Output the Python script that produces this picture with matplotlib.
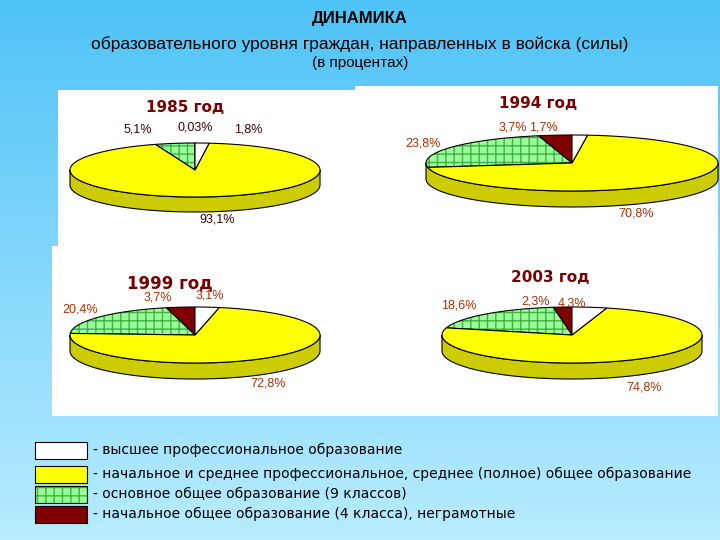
import numpy as np
import matplotlib
matplotlib.use("Agg")
import matplotlib.pyplot as plt
from matplotlib.patches import Polygon, Rectangle
from matplotlib.colors import to_rgb

years = ["1985 год", "1994 год", "1999 год", "2003 год"]
# order counterclockwise from top: darkred, green, yellow, white
darkred = [0.03, 3.7, 3.7, 2.3]
green = [5.1, 23.8, 20.4, 18.6]
yellow = [93.1, 70.8, 72.8, 74.8]
white = [1.8, 1.7, 3.1, 4.3]
legend_labels = ["- высшее профессиональное образование",
                 "- начальное и среднее профессиональное, среднее (полное) общее образование",
                 "- основное общее образование (9 классов)",
                 "- начальное общее образование (4 класса), неграмотные"]
colors = ["#800000", "#99ff99", "#ffff00", "#ffffff"]

fig = plt.figure(figsize=(7.2, 5.4), dpi=100)
ax = fig.add_axes([0, 0, 1, 1])
ax.set_xlim(0, 720); ax.set_ylim(540, 0); ax.axis("off")
c1, c2 = np.array(to_rgb("#4fc3f7")), np.array(to_rgb("#b8ecff"))
g = np.linspace(0, 1, 100)[:, None, None] * (c2 - c1) + c1
g = np.repeat(g, 2, axis=1)
ax.imshow(g, extent=[0, 720, 540, 0], aspect="auto", zorder=0)
ax.add_patch(Rectangle((58, 90), 300, 160, fc="white", ec="none", zorder=1))
ax.add_patch(Rectangle((355, 86), 363, 330, fc="white", ec="none", zorder=1))
ax.add_patch(Rectangle((52, 246), 306, 170, fc="white", ec="none", zorder=1))

ax.text(360, 18, "ДИНАМИКА", ha="center", va="center", fontsize=12, fontweight="bold", family="Liberation Sans")
ax.text(360, 44, "образовательного уровня граждан, направленных в войска (силы)", ha="center", va="center", fontsize=12.5, family="Liberation Sans")
ax.text(360, 63, "(в процентах)", ha="center", va="center", fontsize=11, family="Liberation Sans")

pies = [(195, 170, 125, 27, 15), (572, 163, 146, 28, 16), (195, 335, 125, 28, 16), (572, 335, 130, 28, 16)]
titles = [(185, 108), (538, 103), (170, 283), (550, 277)]

def dark(c, f=0.7):
    return tuple(np.array(to_rgb(c)) * f)

for i, (cx, cy, rx, ry, d) in enumerate(pies):
    vals = [darkred[i], green[i], yellow[i], white[i]]
    tot = sum(vals)
    t = np.linspace(np.pi, 2 * np.pi, 200)
    side = list(zip(cx + rx * np.cos(t), cy - ry * np.sin(t))) + \
        list(zip(cx + rx * np.cos(t[::-1]), cy + d - ry * np.sin(t[::-1])))
    ax.add_patch(Polygon(side, closed=True, fc=dark("#ffff00", 0.8), ec="black", lw=0.8, zorder=2))
    a = np.pi / 2
    for k, v in enumerate(vals):
        span = 2 * np.pi * v / tot
        tt = np.linspace(a, a + span, max(3, int(200 * v / tot) + 2))
        pts = [(cx, cy)] + list(zip(cx + rx * np.cos(tt), cy - ry * np.sin(tt)))
        ax.add_patch(Polygon(pts, closed=True, fc=colors[k], ec="none", zorder=3))
        if k == 1:
            ax.add_patch(Polygon(pts, closed=True, fc="none", ec="#40b040", lw=0, hatch="++", zorder=3))
        ax.add_patch(Polygon(pts, closed=True, fc="none", ec="black", lw=0.8, zorder=3))
        a += span
    ax.text(titles[i][0], titles[i][1], years[i], ha="center", va="center", fontsize=11 if i != 2 else 12,
            fontweight="bold", color="#7a0000", family="Liberation Sans Narrow", zorder=5)

lab = dict(fontsize=9, family="Liberation Sans", zorder=5, va="center", ha="center")
ax.text(138, 130, "5,1%", color="#400000", **lab)
ax.text(195, 128, "0,03%", color="#400000", **lab)
ax.text(248, 130, "1,8%", color="#400000", **lab)
ax.text(217, 219, "93,1%", color="#400000", **lab)
ax.text(423, 143, "23,8%", color="#b03000", **lab)
ax.text(513, 128, "3,7%", color="#b03000", **lab)
ax.text(543, 128, "1,7%", color="#b03000", **lab)
ax.text(636, 213, "70,8%", color="#b03000", **lab)
ax.text(80, 309, "20,4%", color="#b03000", **lab)
ax.text(158, 298, "3,7%", color="#b03000", **lab)
ax.text(210, 296, "3,1%", color="#b03000", **lab)
ax.text(268, 384, "72,8%", color="#b03000", **lab)
ax.text(459, 305, "18,6%", color="#b03000", **lab)
ax.text(536, 301, "2,3%", color="#b03000", **lab)
ax.text(572, 303, "4,3%", color="#b03000", **lab)
ax.text(644, 388, "74,8%", color="#b03000", **lab)

ly = [450, 474, 494, 514]
lc = ["#ffffff", "#ffff00", "#99ff99", "#800000"]
for k in range(4):
    ax.add_patch(Rectangle((35, ly[k] - 8), 52, 17, fc=lc[k], ec="none", zorder=4))
    if k == 2:
        ax.add_patch(Rectangle((35, ly[k] - 8), 52, 17, fc="none", ec="#40b040", lw=0, hatch="++", zorder=4))
    ax.add_patch(Rectangle((35, ly[k] - 8), 52, 17, fc="none", ec="black", lw=0.8, zorder=4))
    ax.text(93, ly[k], legend_labels[k], fontsize=10, family="DejaVu Sans", va="center", ha="left", zorder=5)

fig.savefig("out.png", dpi=100)
